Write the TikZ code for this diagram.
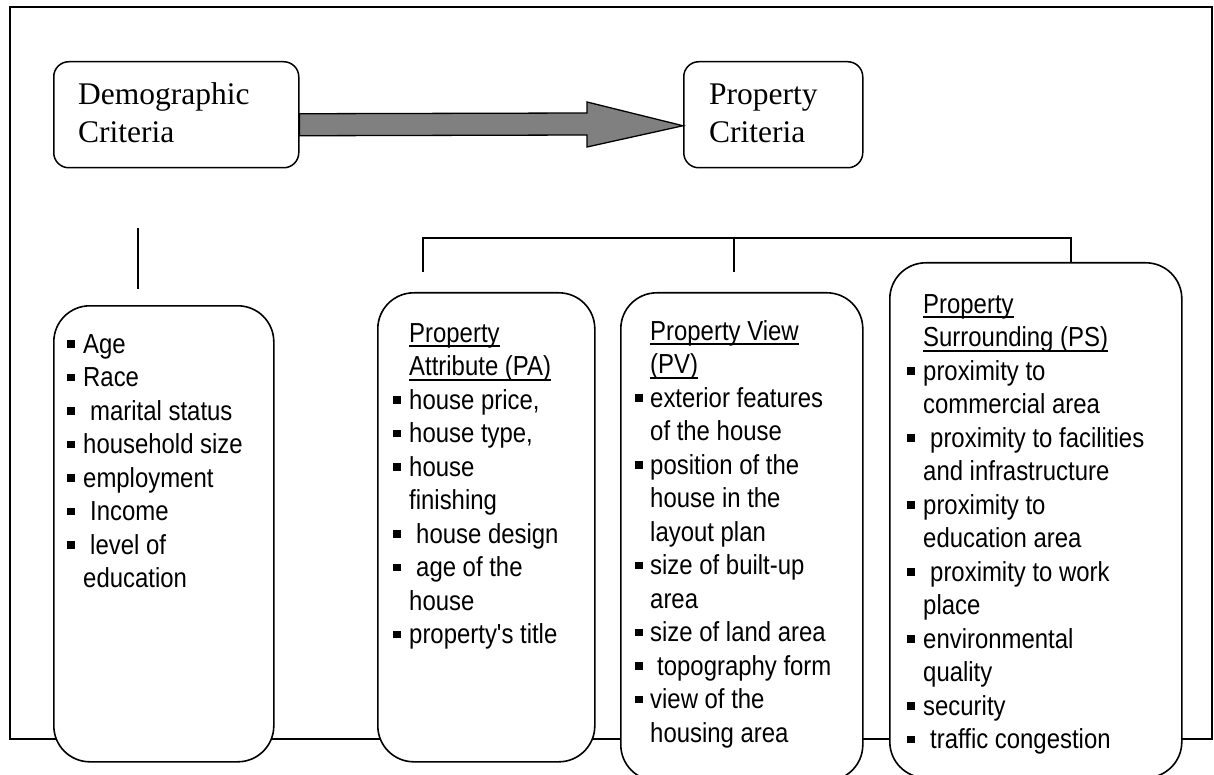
\documentclass[tikz,border=0pt]{standalone}
\usepackage{fontspec}
\setmainfont{Liberation Serif}
\newfontfamily\lsans[FakeStretch=0.87,Ligatures=TeXOff]{Liberation Sans}
\usetikzlibrary{calc}
\newcommand\sqb{\rule[5.5pt]{7.5pt}{7.5pt}}
\newcommand\myul[1]{\setbox0\hbox{#1}\rlap{\rule[-5pt]{\wd0}{2pt}}\box0}
\newcommand\lf{\lsans\fontsize{27.5}{33.5}\selectfont}
\newcommand\xsp{\hspace*{7pt}}
% #1 name, #2 bullet x, #3 text x, #4 first baseline, #5 flag/text list
\newcommand\blist[5]{%
  \foreach \f/\t [count=\i] in {#5} {%
    \pgfmathsetmacro\yy{#4+(\i-1)*33.5}%
    \node[ln] (#1-\i) at (#3,\yy) {\t};
    \ifnum\f=1 \node[bl] (#1-b\i) at (#2,\yy) {\sqb};\fi
  }}
\begin{document}
\begin{tikzpicture}[x=1pt,y=-1pt,
  topbox/.style={draw, line width=1.5pt, rounded corners=15pt, fill=white, inner sep=0pt, anchor=north west},
  listbox/.style={draw, line width=1.6pt, rounded corners=36pt, fill=white, inner sep=0pt, anchor=north west},
  ln/.style={anchor=base west, inner sep=0pt, font=\lf},
  tt/.style={anchor=base west, inner sep=0pt, font=\fontsize{31.5}{39}\selectfont},
  bl/.style={anchor=base west, inner sep=0pt},
  conn/.style={line width=1.3pt},
  arr/.style={draw, line width=1.3pt, fill=black!50, line join=miter}]
\useasboundingbox (0,0) rectangle (1214,775);
\clip (0,0) rectangle (1214,775);
% frame
\draw[line width=1.4pt] (10,7) rectangle (1212,739);
\draw[line width=2.6pt] (8.7,7) -- (1212.7,7);
\draw[line width=2pt] (10,7) -- (10,739);
% top boxes
\node[topbox, minimum width=245pt, minimum height=106pt] (demc) at (53,61) {};
\node[tt] (demc1) at (78,105) {Demographic};
\node[tt] (demc2) at (78,143) {Criteria};
\node[topbox, minimum width=179pt, minimum height=106pt] (propc) at (683,61) {};
\node[tt] (propc1) at (709,105) {Property};
\node[tt] (propc2) at (709,143) {Criteria};
% big arrow
\draw[arr] ([yshift=1pt]demc.east) -- (587,113) -- (587,102) -- ([yshift=-11pt]propc.west)
  -- (587,147) -- (587,135) -- ([yshift=-21pt]demc.east) -- cycle;
% list boxes
\node[listbox, minimum width=220pt, minimum height=456pt] (dem) at (53,305) {};
\node[listbox, minimum width=217pt, minimum height=469pt] (pa) at (377,292) {};
\node[listbox, minimum width=242pt, minimum height=488pt] (pv) at (620,292) {};
\node[listbox, minimum width=292pt, minimum height=515pt] (ps) at (889,262) {};
% connectors
\coordinate (dtop) at (138,228);
\coordinate (dbot) at (138,289);
\coordinate (tl) at (423,238);
\coordinate (tm) at (734,238);
\coordinate (tr) at (1071,238);
\coordinate (pae) at (423,272);
\coordinate (pve) at (734,272);
\draw[conn] (dtop) -- (dbot);
\draw[conn] (pae) -- (tl) -- (tr) -- (ps.north -| tr);
\draw[conn] (tm) -- (pve);
% texts
\blist{d}{67}{83}{353}{1/Age, 1/Race, 1/{\xsp marital status}, 1/household size, 1/employment, 1/{\xsp Income}, 1/{\xsp level of}, 0/education}
\blist{a}{393}{409}{342}{0/{\myul{Property}}, 0/{\myul{Attribute (PA)}}, 1/{house price,}, 1/{house type,}, 1/house, 0/finishing, 1/{\xsp house design}, 1/{\xsp age of the}, 0/house, 1/property's title}
\blist{v}{635}{650}{340}{0/{\myul{Property View}}, 0/{\myul{(PV)}}, 1/exterior features, 0/of the house, 1/position of the, 0/house in the, 0/layout plan, 1/size of built-up, 0/area, 1/size of land area, 1/{\xsp topography form}, 1/view of the, 0/housing area}
\blist{s}{907}{923}{313}{0/{\myul{Property}}, 0/{\myul{Surrounding (PS)}}, 1/proximity to, 0/commercial area, 1/{\xsp proximity to facilities}, 0/and infrastructure, 1/proximity to, 0/education area, 1/{\xsp proximity to work}, 0/place, 1/environmental, 0/quality, 1/security, 1/{\xsp traffic congestion}}
\end{tikzpicture}
\end{document}
